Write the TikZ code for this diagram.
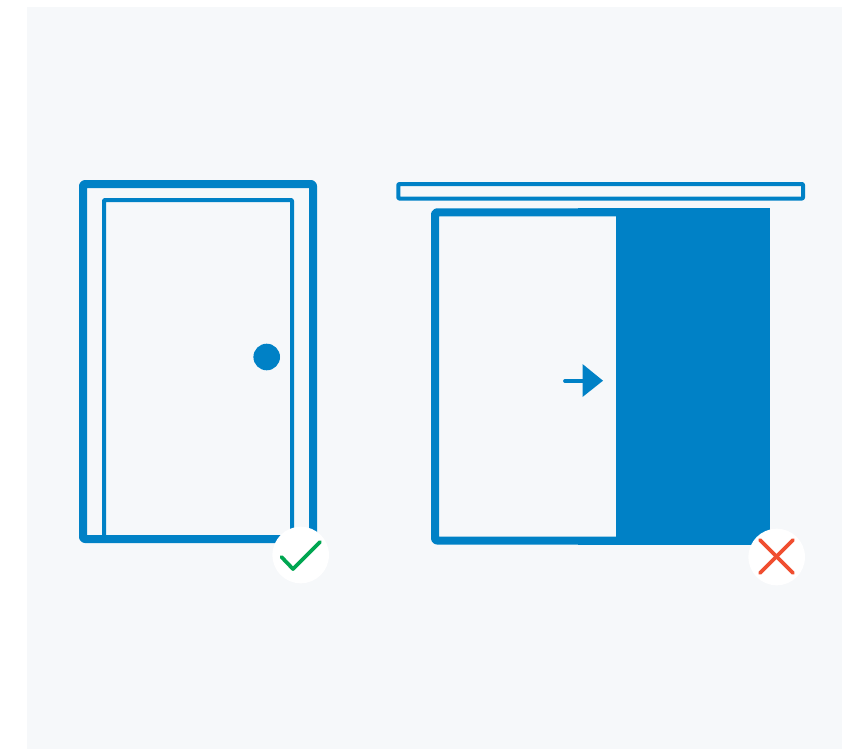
\documentclass[tikz,border=0pt]{standalone}
\definecolor{doorblue}{HTML}{0081C6}
\definecolor{panelbg}{HTML}{F6F8FA}
\definecolor{okgreen}{HTML}{00A651}
\definecolor{badred}{HTML}{F04E30}
\tikzset{
  px/.style={x=0.75pt,y=-0.75pt},
  thick frame/.style={draw=doorblue,line width=6pt,rounded corners=1.5pt,line join=round},
  thin frame/.style={draw=doorblue,line width=3pt,rounded corners=0.6pt,line join=round},
  badge/.style={fill=white,draw=none},
  mark stroke/.style={line width=2.8pt,line cap=round,line join=round}
}
\begin{document}
\begin{tikzpicture}[px]
\useasboundingbox (0,0) rectangle (842,749);
\fill[white] (0,0) rectangle (842,749);
\fill[panelbg] (27,7) rectangle (842,749);
% left door
\draw[thick frame] (83,184) rectangle (313,539);
\draw[thin frame] (104,535) -- (104,200) -- (292,200) -- (292,535);
\fill[doorblue] (266.7,357) circle (13.3);
% right door: rail
\draw[thin frame] (398.3,184) rectangle (803,198.5);
% sliding door
\draw[thick frame] (616,212.3) -- (435,212.3) -- (435,540.5) -- (616,540.5);
\fill[doorblue] (616,208) rectangle (770,545);
\fill[doorblue] (578,208) rectangle (617,216.3);
\fill[doorblue] (578,536.5) rectangle (617,545);
% arrow
\draw[doorblue,line width=2.8pt,line cap=round] (565,381) -- (585,381);
\fill[doorblue] (582.5,364) -- (603,380.7) -- (582.5,397) -- cycle;
% check badge
\fill[badge] (300.7,555) circle (28.3);
\draw[okgreen,mark stroke] (281.5,557) -- (293,569) -- (320,542);
% cross badge
\fill[badge] (776.7,557) circle (28.3);
\draw[badred,mark stroke] (760,540) -- (793,573);
\draw[badred,mark stroke] (793,540) -- (760,573);
\end{tikzpicture}
\end{document}
